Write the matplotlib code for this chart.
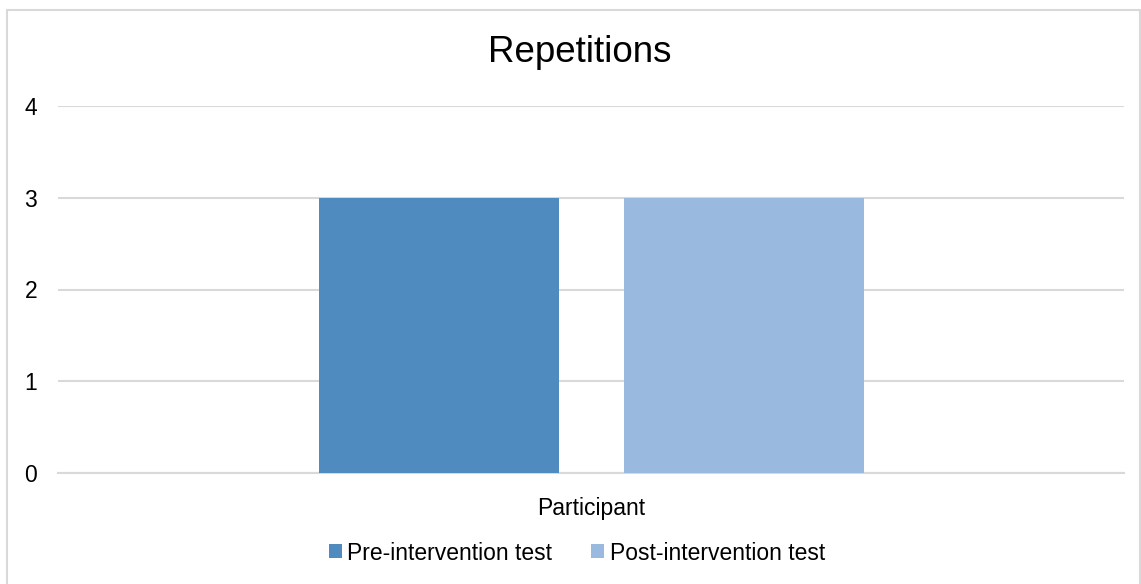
import matplotlib
matplotlib.use("Agg")
import matplotlib.pyplot as plt
from matplotlib.patches import Rectangle

plt.rcParams['font.family'] = ['Liberation Sans', 'DejaVu Sans']

categories = ["Participant"]
series_names = ["Pre-intervention test", "Post-intervention test"]
pre_values = [3]
post_values = [3]
colors = ["#4F8BBE", "#9AB9DF"]
title = "Repetitions"
yticks = [0, 1, 2, 3, 4]

W, H = 1141, 584
fig = plt.figure(figsize=(W / 100, H / 100), dpi=100)
ax = fig.add_axes([58 / W, 111 / H, (1124 - 58) / W, (473 - 106) / H])

bw = 240 / 1066
off = 152.5 / 1066
x = list(range(len(categories)))
ax.bar([i - off for i in x], pre_values, width=bw, color=colors[0], label=series_names[0], zorder=3)
ax.bar([i + off for i in x], post_values, width=bw, color=colors[1], label=series_names[1], zorder=3)

ax.set_xlim(-0.5, len(categories) - 0.5)
ax.set_ylim(0, 4)
ax.set_yticks(yticks)
ax.set_yticklabels([str(t) for t in yticks], fontsize=16.5)
ax.set_xticks(x)
ax.set_xticklabels(categories, fontsize=16.5)
ax.tick_params(axis='both', length=0, colors='#000000')
ax.tick_params(axis='y', pad=15)
ax.tick_params(axis='x', pad=17)
ax.yaxis.grid(True, color='#D9D9D9', linewidth=1.5, zorder=0)
for s in ['top', 'right', 'left']:
    ax.spines[s].set_visible(False)
ax.spines['bottom'].set_color('#D9D9D9')
ax.spines['bottom'].set_linewidth(1.5)

fig.text(580 / W, 1 - 53 / H, title, ha='center', va='center', fontsize=26.5)

handles, labels = ax.get_legend_handles_labels()
fig.legend(handles, labels, loc='center', bbox_to_anchor=(577 / W, 1 - 553 / H), ncol=2,
           frameon=False, fontsize=16.5, handlelength=0.55, handleheight=0.55,
           handletextpad=0.25, columnspacing=1.7)

fig.patches.append(Rectangle((6.5 / W, -0.05), (1140 - 6.5) / W, 1.05 - 9.5 / H,
                             transform=fig.transFigure, fill=False,
                             edgecolor='#D9D9D9', linewidth=1.5))

fig.savefig("out.png", dpi=100)
